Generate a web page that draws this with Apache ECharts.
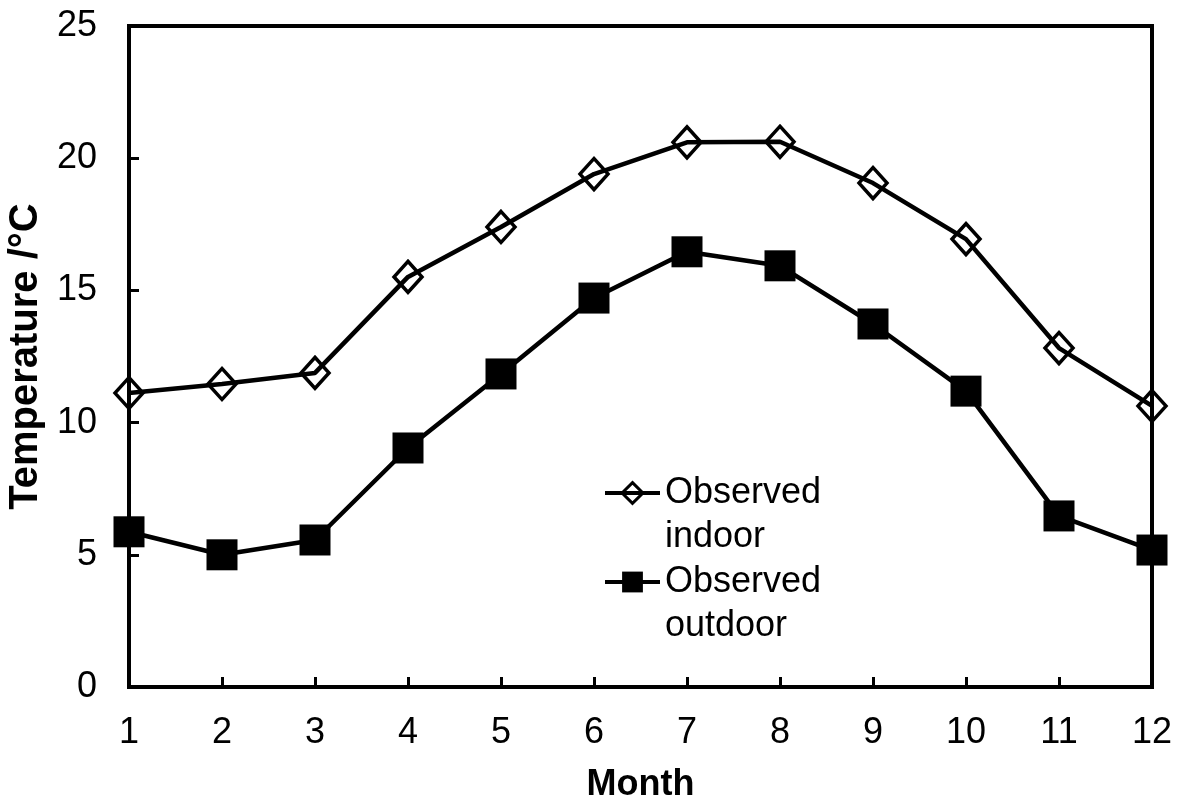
<!DOCTYPE html>
<html>
<head>
<meta charset="utf-8">
<script src="https://cdn.jsdelivr.net/npm/echarts@6/dist/echarts.min.js"></script>
<style>
html,body{margin:0;padding:0;background:#fff;}
#chart{width:1192px;height:800px;}
</style>
</head>
<body>
<div id="chart"></div>
<script>
const months = ['1','2','3','4','5','6','7','8','9','10','11','12'];
const indoor = [11.12, 11.46, 11.88, 15.51, 17.40, 19.40, 20.60, 20.62, 19.06, 16.94, 12.82, 10.63];
const outdoor = [5.87, 5.00, 5.56, 9.04, 11.84, 14.71, 16.46, 15.93, 13.73, 11.19, 6.47, 5.18];
const seriesNames = ['Observed\nindoor', 'Observed\noutdoor'];

const FONT = "'Liberation Sans', Arial, sans-serif";
const chart = echarts.init(document.getElementById('chart'), null, {renderer: 'canvas'});
const legendText = {color: '#000', fontFamily: FONT, fontSize: 36, lineHeight: 44};
const legendBase = {
  orient: 'vertical', left: 603, padding: 0, itemWidth: 55, itemHeight: 26,
  textStyle: legendText, selectedMode: false,
  lineStyle: {width: 4, color: '#000'},
  formatter: function (name) { return '\n' + name; }
};
chart.setOption({
  backgroundColor: '#fff',
  animation: false,
  grid: {left: 129, right: 40, top: 26, bottom: 113, outerBoundsMode: 'none', containLabel: false,
         show: true, borderColor: '#000', borderWidth: 4, backgroundColor: 'transparent'},
  legend: [
    Object.assign({}, legendBase, {data: [seriesNames[0]], top: 427, itemStyle: {borderWidth: 3, borderColor: '#000', color: 'rgba(255,255,255,0)'}}),
    Object.assign({}, legendBase, {data: [seriesNames[1]], top: 516, itemStyle: {borderWidth: 0, color: '#000'}})
  ],
  xAxis: {
    type: 'category', data: months, boundaryGap: false,
    name: 'Month', nameLocation: 'middle', nameGap: 80,
    nameTextStyle: {color: '#000', fontFamily: FONT, fontSize: 36, fontWeight: 'bold'},
    axisLine: {lineStyle: {color: '#000', width: 4}},
    axisTick: {inside: true, length: 10, lineStyle: {color: '#000', width: 3}},
    axisLabel: {color: '#000', fontFamily: FONT, fontSize: 36, margin: 28, interval: 0},
    splitLine: {show: false}
  },
  yAxis: {
    type: 'value', min: 0, max: 25, interval: 5,
    name: 'Temperature /°C', nameLocation: 'middle', nameGap: 78, nameRotate: 90,
    nameTextStyle: {color: '#000', fontFamily: FONT, fontSize: 40, fontWeight: 'bold'},
    axisLine: {show: true, lineStyle: {color: '#000', width: 4}},
    axisTick: {show: true, inside: true, length: 10, lineStyle: {color: '#000', width: 3}},
    axisLabel: {color: '#000', fontFamily: FONT, fontSize: 36, margin: 32},
    splitLine: {show: false}
  },
  series: [
    {
      name: seriesNames[0], type: 'line', data: indoor,
      symbol: 'diamond', symbolSize: [28, 31], showAllSymbol: true, clip: false,
      lineStyle: {color: '#000', width: 4.5},
      itemStyle: {color: 'rgba(255,255,255,0)', borderColor: '#000', borderWidth: 3.5},
      z: 3
    },
    {
      name: seriesNames[1], type: 'line', data: outdoor,
      symbol: 'rect', symbolSize: 31, showAllSymbol: true, clip: false,
      lineStyle: {color: '#000', width: 4.5},
      itemStyle: {color: '#000', borderWidth: 0},
      z: 3
    }
  ]
});
</script>
</body>
</html>
